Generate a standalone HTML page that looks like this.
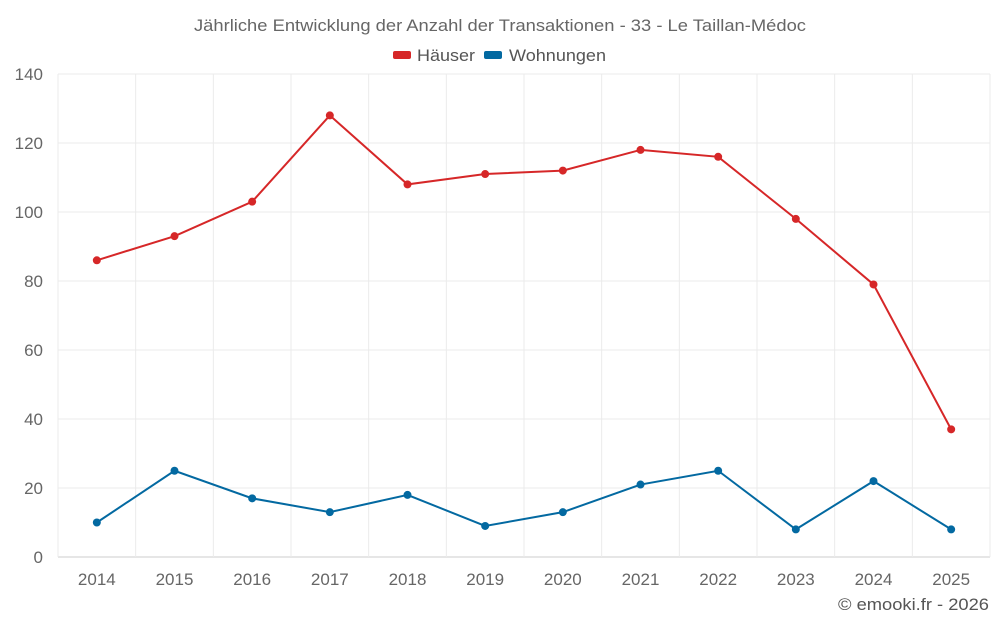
<!DOCTYPE html>
<html><head><meta charset="utf-8"><style>
body{margin:0;background:#fff;font-family:"Liberation Sans",sans-serif;}
svg text{font-family:"Liberation Sans",sans-serif;}
</style></head><body>
<svg id="chart" width="1000" height="625">
<text x="194" y="31" font-size="17" fill="#666" textLength="612" lengthAdjust="spacingAndGlyphs">Jährliche Entwicklung der Anzahl der Transaktionen - 33 - Le Taillan-Médoc</text>
<g><rect x="393" y="51" width="18" height="8" rx="2" fill="#d62728"/><text x="417" y="61" font-size="17" fill="#555" textLength="58" lengthAdjust="spacingAndGlyphs">Häuser</text></g>
<g><rect x="484" y="51" width="18" height="8" rx="2" fill="#0369a1"/><text x="509" y="61" font-size="17" fill="#555" textLength="97" lengthAdjust="spacingAndGlyphs">Wohnungen</text></g>
<g id="grid"></g><g id="axes"></g><g id="series"></g>
<text x="838" y="610" font-size="17" fill="#555" textLength="151" lengthAdjust="spacingAndGlyphs">© emooki.fr - 2026</text>
</svg>
<script>
const categories=["2014","2015","2016","2017","2018","2019","2020","2021","2022","2023","2024","2025"];
const haeuser=[86,93,103,128,108,111,112,118,116,98,79,37];
const wohnungen=[10,25,17,13,18,9,13,21,25,8,22,8];
const yTicks=[0,20,40,60,80,100,120,140];
const NS="http://www.w3.org/2000/svg";
const L=58,R=990,T=74,B=557,yMax=140;
const bw=(R-L)/categories.length;
const x=i=>L+bw*(i+0.5);
const y=v=>B-(v/yMax)*(B-T);
function mk(tag,attrs,parent){const e=document.createElementNS(NS,tag);for(const k in attrs)e.setAttribute(k,attrs[k]);document.getElementById(parent).appendChild(e);return e;}
yTicks.forEach(t=>{
 const g=mk('line',{x1:L,x2:R,y1:y(t),y2:y(t),stroke:t===0?'#ccc':'#ebebeb'},'grid');
 
 
 const tx=mk('text',{x:L-15,y:y(t)+6,'text-anchor':'end','font-size':17,fill:'#666'},'axes');
 tx.textContent=t;
 
 
});
for(let i=0;i<=categories.length;i++){
 const g=mk('line',{x1:L+bw*i,x2:L+bw*i,y1:T,y2:B,stroke:'#ebebeb'},'grid');
 
 
}
categories.forEach((c,i)=>{
 const tx=mk('text',{x:x(i),y:585,'text-anchor':'middle','font-size':17,fill:'#666'},'axes');
 tx.textContent=c;
 
 
});
function series(data,color,name){
 const p=mk('polyline',{points:data.map((v,i)=>x(i)+','+y(v)).join(' '),fill:'none',stroke:color,'stroke-width':2},'series');
 
 
 data.forEach((v,i)=>{
  const c=mk('circle',{cx:x(i),cy:y(v),r:4,fill:color},'series');
  
  
 });
}
series(haeuser,'#d62728','haeuser');
series(wohnungen,'#0369a1','wohnungen');
</script>
</body></html>
